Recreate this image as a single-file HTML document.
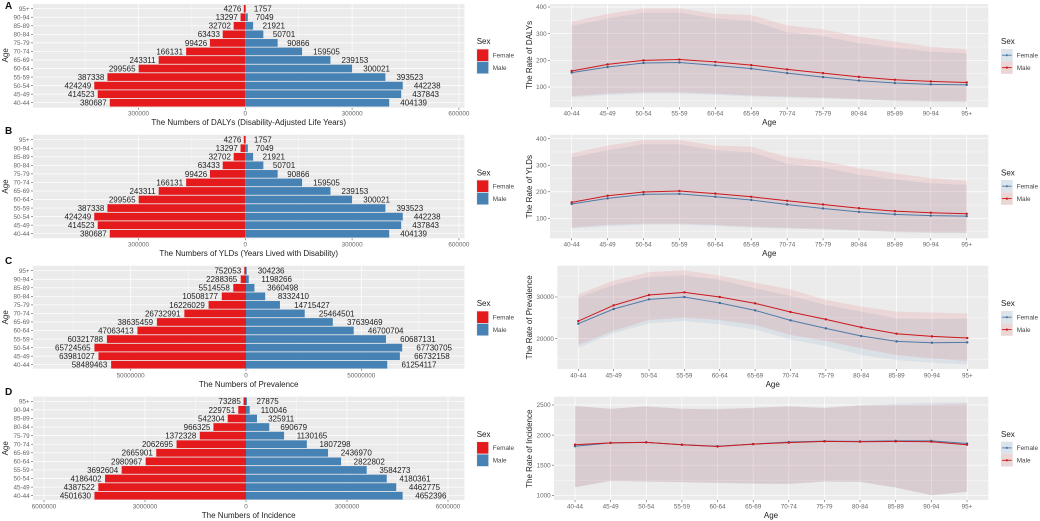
<!DOCTYPE html>
<html lang="en">
<head>
<meta charset="utf-8">
<title>Disease burden by age and sex</title>
<style>
html,body{margin:0;padding:0;background:#fff;width:1040px;height:521px;overflow:hidden}
svg{display:block;filter:blur(0.3px)}
text{font-family:"Liberation Sans",sans-serif}
.at{font-size:8px;fill:#222;text-anchor:middle}
.lt{font-size:6.4px;fill:#444}
.st{font-size:8px;fill:#222}
.pl{font-size:10px;font-weight:bold;fill:#111}
</style>
</head>
<body>
<svg id="figure" xmlns="http://www.w3.org/2000/svg" width="1040" height="521" viewBox="0 0 1040 521">
  <rect width="1040" height="521" fill="#fff"/>

  <text class="pl" x="5" y="9">A</text>
  <text class="pl" x="5" y="134">B</text>
  <text class="pl" x="5" y="264">C</text>
  <text class="pl" x="5" y="395">D</text>

  <g id="pyramid-a"></g>
  <g id="pyramid-b"></g>
  <g id="pyramid-c"></g>
  <g id="pyramid-d"></g>
  <g id="rate-a"></g>
  <g id="rate-b"></g>
  <g id="rate-c"></g>
  <g id="rate-d"></g>

  <!-- axis titles : pyramids -->
  <text class="at" x="248.7" y="125">The Numbers of DALYs (Disability-Adjusted Life Years)</text>
  <text class="at" x="248.7" y="256">The Numbers of YLDs (Years Lived with Disability)</text>
  <text class="at" x="248.7" y="387">The Numbers of Prevalence</text>
  <text class="at" x="248.7" y="518">The Numbers of Incidence</text>
  <text class="at" transform="translate(7.8,55.3) rotate(-90)">Age</text>
  <text class="at" transform="translate(7.8,186.5) rotate(-90)">Age</text>
  <text class="at" transform="translate(7.8,317.3) rotate(-90)">Age</text>
  <text class="at" transform="translate(7.8,448.3) rotate(-90)">Age</text>

  <!-- axis titles : rates -->
  <text class="at" x="769.3" y="125">Age</text>
  <text class="at" x="769.3" y="256">Age</text>
  <text class="at" x="772.7" y="387">Age</text>
  <text class="at" x="771" y="518">Age</text>
  <text class="at" transform="translate(532,55) rotate(-90)">The Rate of DALYs</text>
  <text class="at" transform="translate(532,186.7) rotate(-90)">The Rate of YLDs</text>
  <text class="at" transform="translate(532,317.3) rotate(-90)">The Rate of Prevalence</text>
  <text class="at" transform="translate(532,448.7) rotate(-90)">The Rate of Incidence</text>

  <!-- legends : pyramids -->
  <g>
    <text class="st" x="476.7" y="44">Sex</text>
    <rect x="476.7" y="49" width="12" height="12.4" fill="#E41A1C" stroke="#efefef" stroke-width="0.7"/>
    <rect x="476.7" y="61.4" width="12" height="12.4" fill="#4682B4" stroke="#efefef" stroke-width="0.7"/>
    <text class="lt" x="492.7" y="57.3">Female</text>
    <text class="lt" x="492.7" y="70">Male</text>
  </g>
  <g>
    <text class="st" x="476.7" y="175.3">Sex</text>
    <rect x="476.7" y="180" width="12" height="12.4" fill="#E41A1C" stroke="#efefef" stroke-width="0.7"/>
    <rect x="476.7" y="192.4" width="12" height="12.4" fill="#4682B4" stroke="#efefef" stroke-width="0.7"/>
    <text class="lt" x="492.7" y="188.3">Female</text>
    <text class="lt" x="492.7" y="201">Male</text>
  </g>
  <g>
    <text class="st" x="476.7" y="306">Sex</text>
    <rect x="476.7" y="311" width="12" height="12.4" fill="#E41A1C" stroke="#efefef" stroke-width="0.7"/>
    <rect x="476.7" y="323.4" width="12" height="12.4" fill="#4682B4" stroke="#efefef" stroke-width="0.7"/>
    <text class="lt" x="492.7" y="319.3">Female</text>
    <text class="lt" x="492.7" y="332">Male</text>
  </g>
  <g>
    <text class="st" x="476.7" y="437">Sex</text>
    <rect x="476.7" y="441.7" width="12" height="12.4" fill="#E41A1C" stroke="#efefef" stroke-width="0.7"/>
    <rect x="476.7" y="454.1" width="12" height="12.4" fill="#4682B4" stroke="#efefef" stroke-width="0.7"/>
    <text class="lt" x="492.7" y="450">Female</text>
    <text class="lt" x="492.7" y="462.7">Male</text>
  </g>

  <!-- legends : rates -->
  <g>
    <text class="st" x="1001" y="44">Sex</text>
    <rect x="1001" y="49" width="11.7" height="12.4" fill="#DCE3EA"/>
    <rect x="1001" y="61.4" width="11.7" height="12.4" fill="#EBD6D6"/>
    <path d="M1002 55.2H1011.7" stroke="#4F7BA8" stroke-width="0.9"/>
    <path d="M1002 67.6H1011.7" stroke="#CB181D" stroke-width="0.9"/>
    <circle cx="1006.85" cy="55.2" r="1.1" fill="#4F7BA8"/>
    <circle cx="1006.85" cy="67.6" r="1.1" fill="#CB181D"/>
    <text class="lt" x="1016.7" y="57.3">Female</text>
    <text class="lt" x="1016.7" y="70">Male</text>
  </g>
  <g>
    <text class="st" x="1001" y="175.3">Sex</text>
    <rect x="1001" y="180" width="11.7" height="12.4" fill="#DCE3EA"/>
    <rect x="1001" y="192.4" width="11.7" height="12.4" fill="#EBD6D6"/>
    <path d="M1002 186.2H1011.7" stroke="#4F7BA8" stroke-width="0.9"/>
    <path d="M1002 198.6H1011.7" stroke="#CB181D" stroke-width="0.9"/>
    <circle cx="1006.85" cy="186.2" r="1.1" fill="#4F7BA8"/>
    <circle cx="1006.85" cy="198.6" r="1.1" fill="#CB181D"/>
    <text class="lt" x="1016.7" y="188.3">Female</text>
    <text class="lt" x="1016.7" y="201">Male</text>
  </g>
  <g>
    <text class="st" x="1001" y="306">Sex</text>
    <rect x="1001" y="311" width="11.7" height="12.4" fill="#DCE3EA"/>
    <rect x="1001" y="323.4" width="11.7" height="12.4" fill="#EBD6D6"/>
    <path d="M1002 317.2H1011.7" stroke="#4F7BA8" stroke-width="0.9"/>
    <path d="M1002 329.6H1011.7" stroke="#CB181D" stroke-width="0.9"/>
    <circle cx="1006.85" cy="317.2" r="1.1" fill="#4F7BA8"/>
    <circle cx="1006.85" cy="329.6" r="1.1" fill="#CB181D"/>
    <text class="lt" x="1016.7" y="319.3">Female</text>
    <text class="lt" x="1016.7" y="332">Male</text>
  </g>
  <g>
    <text class="st" x="1001" y="437">Sex</text>
    <rect x="1001" y="441.7" width="11.7" height="12.4" fill="#DCE3EA"/>
    <rect x="1001" y="454.1" width="11.7" height="12.4" fill="#EBD6D6"/>
    <path d="M1002 447.9H1011.7" stroke="#4F7BA8" stroke-width="0.9"/>
    <path d="M1002 460.3H1011.7" stroke="#CB181D" stroke-width="0.9"/>
    <circle cx="1006.85" cy="447.9" r="1.1" fill="#4F7BA8"/>
    <circle cx="1006.85" cy="460.3" r="1.1" fill="#CB181D"/>
    <text class="lt" x="1016.7" y="450">Female</text>
    <text class="lt" x="1016.7" y="462.7">Male</text>
  </g>
</svg>

<script>
/* ---------- categories (youngest first) ---------- */
var ages = ["40-44","45-49","50-54","55-59","60-64","65-69","70-74","75-79","80-84","85-89","90-94","95+"];

/* ---------- pyramid counts ---------- */
var dalysFemaleCount = [380687,414523,424249,387338,299565,243311,166131,99426,63433,32702,13297,4276];
var dalysMaleCount = [404139,437843,442238,393523,300021,239153,159505,90866,50701,21921,7049,1757];
var yldsFemaleCount = [380687,414523,424249,387338,299565,243311,166131,99426,63433,32702,13297,4276];
var yldsMaleCount = [404139,437843,442238,393523,300021,239153,159505,90866,50701,21921,7049,1757];
var prevalenceFemaleCount = [58489463,63981027,65724565,60321788,47063413,38635459,26732991,16226029,10508177,5514558,2288365,752053];
var prevalenceMaleCount = [61254117,66732158,67730705,60687131,46700704,37639469,25464501,14715427,8332410,3660498,1198266,304236];
var incidenceFemaleCount = [4501630,4387522,4186402,3692604,2980967,2665901,2062695,1372328,966325,542304,229751,73285];
var incidenceMaleCount = [4652396,4462775,4180361,3584273,2822802,2436970,1807298,1130165,690679,325911,110046,27875];

/* ---------- pyramid axis ticks ---------- */
var dalysCountMajor = [-300000,0,300000,600000];
var dalysCountMinor = [-450000,-150000,150000,450000];
var prevalenceCountMajor = [-50000000,0,50000000];
var prevalenceCountMinor = [-75000000,-25000000,25000000,75000000];
var incidenceCountMajor = [-6000000,-3000000,0,3000000,6000000];
var incidenceCountMinor = [-4500000,-1500000,1500000,4500000];

/* ---------- rate series: DALYs ---------- */
var dalysFemaleRate = [154,175,190,192,181,169,152,137,124,115,110,108];
var dalysMaleRate = [160,185,200,203,194,182,166,152,138,127,121,117];
var dalysFemaleUpper = [329,357,379,379,357,349,305,291,264,247,232,226];
var dalysMaleUpper = [345,374,395,395,374,370,331,316,289,270,251,241];
var dalysFemaleLower = [61,70,76,76,71,65,61,58,54,47,45,44];
var dalysMaleLower = [66,75,80,80,75,68,64,60,55,50,47,46];

/* ---------- rate series: YLDs ---------- */
var yldsFemaleRate = [154,175,190,192,181,169,152,137,124,115,110,108];
var yldsMaleRate = [160,185,199,203,193,181,166,152,138,127,121,117];
var yldsFemaleUpper = [329,357,379,379,357,349,305,291,264,247,232,226];
var yldsMaleUpper = [345,374,395,395,374,370,331,316,289,270,251,241];
var yldsFemaleLower = [61,70,76,76,71,65,61,58,54,47,45,44];
var yldsMaleLower = [66,75,80,80,75,68,64,60,55,50,47,46];

/* ---------- rate series: prevalence ---------- */
var prevalenceFemaleRate = [23600,27120,29440,30000,28560,26800,24400,22480,20640,19360,19040,19120];
var prevalenceMaleRate = [24240,28000,30480,31120,30000,28480,26400,24640,22720,21200,20560,20160];
var prevalenceFemaleUpper = [29920,32880,34880,35280,34080,32080,30240,28080,26480,24880,24720,24880];
var prevalenceMaleUpper = [30640,33920,35920,36400,35120,33440,31840,29280,27680,26480,26240,26080];
var prevalenceFemaleLower = [17840,21280,23680,24240,23440,22240,19840,18240,16080,14880,14240,13840];
var prevalenceMaleLower = [18480,21920,24480,25040,24480,23280,20880,19440,17680,16080,15280,14640];

/* ---------- rate series: incidence ---------- */
var incidenceFemaleRate = [1815,1870,1880,1840,1815,1850,1885,1900,1895,1905,1905,1860];
var incidenceMaleRate = [1840,1870,1880,1840,1810,1850,1875,1895,1890,1895,1890,1840];
var incidenceFemaleUpper = [2480,2440,2475,2440,2435,2455,2480,2455,2500,2520,2540,2540];
var incidenceMaleUpper = [2485,2435,2480,2435,2430,2450,2475,2450,2490,2500,2505,2525];
var incidenceFemaleLower = [1133,1238,1227,1216,1205,1194,1188,1227,1222,1128,1000,1056];
var incidenceMaleLower = [1135,1240,1230,1218,1208,1196,1190,1230,1225,1130,1003,1060];

/* ---------- rate axis ticks ---------- */
var burdenRateMajor = [100,200,300,400];
var burdenRateMinor = [50,150,250,350];
var prevalenceRateMajor = [20000,30000];
var prevalenceRateMinor = [15000,25000,35000];
var incidenceRateMajor = [1000,1500,2000,2500];
var incidenceRateMinor = [1250,1750,2250];

var SVGNS = "http://www.w3.org/2000/svg";
var RED = "#E41A1C", STEEL = "#4682B4";
var MALE_LINE = "#CB181D", FEMALE_LINE = "#4F7BA8";

function mk(parent, tag, attrs, txt) {
  var n = document.createElementNS(SVGNS, tag);
  for (var k in attrs) n.setAttribute(k, attrs[k]);
  if (txt !== undefined) n.textContent = txt;
  parent.appendChild(n);
  return n;
}
function linear(d0, d1, r0, r1) {
  return function (v) { return r0 + (v - d0) * (r1 - r0) / (d1 - d0); };
}

function drawPyramid(id, female, male, major, minor, g) {
  var root = document.getElementById(id);
  var x = linear(g.d0, g.d1, g.r0, g.r1);
  var y = linear(0, ages.length - 1, g.yFirst, g.yLast);
  var step = Math.abs(y(1) - y(0));

  var bg = mk(root, "rect", {x: g.left, y: g.top, width: g.right - g.left, height: g.bottom - g.top, fill: "#EBEBEB"});
  
  

  minor.forEach(function (v) {
    var l = mk(root, "line", {x1: x(v), x2: x(v), y1: g.top, y2: g.bottom, stroke: "#fff", "stroke-width": 0.35});
    
    
  });
  major.forEach(function (v) {
    var l = mk(root, "line", {x1: x(v), x2: x(v), y1: g.top, y2: g.bottom, stroke: "#fff", "stroke-width": 0.7});
    
    
    var t = mk(root, "line", {x1: x(v), x2: x(v), y1: g.bottom, y2: g.bottom + 2, stroke: "#555", "stroke-width": 0.6});
    
    
    var lab = mk(root, "text", {x: x(v), y: g.tickY, "text-anchor": "middle", "font-size": 6.3, fill: "#666"}, String(Math.abs(v)));
    
    
  });

  ages.forEach(function (a, i) {
    var cy = y(i);
    var gl = mk(root, "line", {x1: g.left, x2: g.right, y1: cy, y2: cy, stroke: "#fff", "stroke-width": 0.7});
    
    
    var t = mk(root, "line", {x1: g.left - 2, x2: g.left, y1: cy, y2: cy, stroke: "#555", "stroke-width": 0.6});
    
    
    var lab = mk(root, "text", {x: g.left - 3.4, y: cy + 2.2, "text-anchor": "end", "font-size": 6.3, fill: "#666"}, a);
    
    
  });

  var h = step * 0.9;
  ages.forEach(function (a, i) {
    var cy = y(i);
    var fx = x(-female[i]), mx = x(male[i]), zero = x(0);
    var fb = mk(root, "rect", {x: fx, y: cy - h / 2, width: zero - fx, height: h, fill: RED});
    
    
    var mb = mk(root, "rect", {x: zero, y: cy - h / 2, width: mx - zero, height: h, fill: STEEL});
    
    

    var fs = String(female[i]), ms = String(male[i]);
    var fl = mk(root, "text", {x: fx - (0.35 * fs.length + 1), y: cy + 2.9, "text-anchor": "end", "font-size": 8, fill: "#222"}, fs);
    
    
    var ml = mk(root, "text", {x: mx + (1.55 * ms.length + 1.8), y: cy + 2.9, "font-size": 8, fill: "#222"}, ms);
    
    
  });
}

function bandPath(x, y, upper, lower) {
  var d = "";
  upper.forEach(function (v, i) { d += (i ? "L" : "M") + x(i).toFixed(2) + " " + y(v).toFixed(2); });
  for (var i = lower.length - 1; i >= 0; i--) d += "L" + x(i).toFixed(2) + " " + y(lower[i]).toFixed(2);
  return d + "Z";
}
function linePath(x, y, vals) {
  return vals.map(function (v, i) { return (i ? "L" : "M") + x(i).toFixed(2) + " " + y(v).toFixed(2); }).join("");
}

function drawRate(id, s, major, minor, g) {
  var root = document.getElementById(id);
  var x = linear(0, ages.length - 1, g.xFirst, g.xLast);
  var y = linear(g.d0, g.d1, g.r0, g.r1);

  var bg = mk(root, "rect", {x: g.left, y: g.top, width: g.right - g.left, height: g.bottom - g.top, fill: "#EBEBEB"});
  
  

  minor.forEach(function (v) {
    var l = mk(root, "line", {x1: g.left, x2: g.right, y1: y(v), y2: y(v), stroke: "#fff", "stroke-width": 0.35});
    
    
  });
  major.forEach(function (v) {
    var l = mk(root, "line", {x1: g.left, x2: g.right, y1: y(v), y2: y(v), stroke: "#fff", "stroke-width": 0.7});
    
    
    var t = mk(root, "line", {x1: g.left - 2, x2: g.left, y1: y(v), y2: y(v), stroke: "#555", "stroke-width": 0.6});
    
    
    var lab = mk(root, "text", {x: g.left - 3.4, y: y(v) + 2.2, "text-anchor": "end", "font-size": 6.3, fill: "#666"}, String(v));
    
    
  });
  ages.forEach(function (a, i) {
    var l = mk(root, "line", {x1: x(i), x2: x(i), y1: g.top, y2: g.bottom, stroke: "#fff", "stroke-width": 0.7});
    
    
    var t = mk(root, "line", {x1: x(i), x2: x(i), y1: g.bottom, y2: g.bottom + 2, stroke: "#555", "stroke-width": 0.6});
    
    
    var lab = mk(root, "text", {x: x(i), y: g.tickY, "text-anchor": "middle", "font-size": 6.3, fill: "#666"}, a);
    
    
  });

  var fb = mk(root, "path", {d: bandPath(x, y, s.fu, s.fl), fill: "#377EB8", "fill-opacity": 0.1});
  
  
  var mb = mk(root, "path", {d: bandPath(x, y, s.mu, s.ml), fill: "#E41A1C", "fill-opacity": 0.1});
  
  

  var fl = mk(root, "path", {d: linePath(x, y, s.f), fill: "none", stroke: FEMALE_LINE, "stroke-width": 1});
  
  
  s.f.forEach(function (v, i) {
    var p = mk(root, "circle", {cx: x(i), cy: y(v), r: 1.2, fill: "#3F6A96"});
    
    
  });
  var ml = mk(root, "path", {d: linePath(x, y, s.m), fill: "none", stroke: MALE_LINE, "stroke-width": 1});
  
  
  s.m.forEach(function (v, i) {
    var p = mk(root, "circle", {cx: x(i), cy: y(v), r: 1.2, fill: MALE_LINE});
    
    
  });
}

drawPyramid("pyramid-a", dalysFemaleCount, dalysMaleCount, dalysCountMajor, dalysCountMinor,
  {left: 33, right: 464.5, top: 4, bottom: 107.7, d0: 0, d1: 300000, r0: 245.3, r1: 352.1, yFirst: 102.7, yLast: 8.7, tickY: 115.5});
drawPyramid("pyramid-b", yldsFemaleCount, yldsMaleCount, dalysCountMajor, dalysCountMinor,
  {left: 33, right: 464.5, top: 134.7, bottom: 238.3, d0: 0, d1: 300000, r0: 245.3, r1: 352.1, yFirst: 233.7, yLast: 139.7, tickY: 246.5});
drawPyramid("pyramid-c", prevalenceFemaleCount, prevalenceMaleCount, prevalenceCountMajor, prevalenceCountMinor,
  {left: 33, right: 464.5, top: 265.7, bottom: 368.7, d0: 0, d1: 50000000, r0: 246, r1: 361.3, yFirst: 364.7, yLast: 270.7, tickY: 377.5});
drawPyramid("pyramid-d", incidenceFemaleCount, incidenceMaleCount, incidenceCountMajor, incidenceCountMinor,
  {left: 33, right: 464.5, top: 396.7, bottom: 500, d0: 0, d1: 3000000, r0: 246, r1: 347, yFirst: 495.7, yLast: 401.3, tickY: 508.5});

drawRate("rate-a", {f: dalysFemaleRate, m: dalysMaleRate, fu: dalysFemaleUpper, mu: dalysMaleUpper, fl: dalysFemaleLower, ml: dalysMaleLower},
  burdenRateMajor, burdenRateMinor,
  {left: 550, right: 988.3, top: 4, bottom: 107.3, xFirst: 571.7, xLast: 966.7, d0: 100, d1: 400, r0: 87, r1: 7, tickY: 115.5});
drawRate("rate-b", {f: yldsFemaleRate, m: yldsMaleRate, fu: yldsFemaleUpper, mu: yldsMaleUpper, fl: yldsFemaleLower, ml: yldsMaleLower},
  burdenRateMajor, burdenRateMinor,
  {left: 550, right: 988.3, top: 134.7, bottom: 238.3, xFirst: 571.7, xLast: 966.7, d0: 100, d1: 400, r0: 218.3, r1: 138.7, tickY: 246.5});
drawRate("rate-c", {f: prevalenceFemaleRate, m: prevalenceMaleRate, fu: prevalenceFemaleUpper, mu: prevalenceMaleUpper, fl: prevalenceFemaleLower, ml: prevalenceMaleLower},
  prevalenceRateMajor, prevalenceRateMinor,
  {left: 557.3, right: 988.3, top: 265.7, bottom: 369, xFirst: 578.3, xLast: 967.3, d0: 20000, d1: 30000, r0: 338.7, r1: 297, tickY: 377.5});
drawRate("rate-d", {f: incidenceFemaleRate, m: incidenceMaleRate, fu: incidenceFemaleUpper, mu: incidenceMaleUpper, fl: incidenceFemaleLower, ml: incidenceMaleLower},
  incidenceRateMajor, incidenceRateMinor,
  {left: 554, right: 988.3, top: 396.7, bottom: 500, xFirst: 575, xLast: 967, d0: 1000, d1: 2500, r0: 495.3, r1: 405, tickY: 508.5});
</script>
</body>
</html>
